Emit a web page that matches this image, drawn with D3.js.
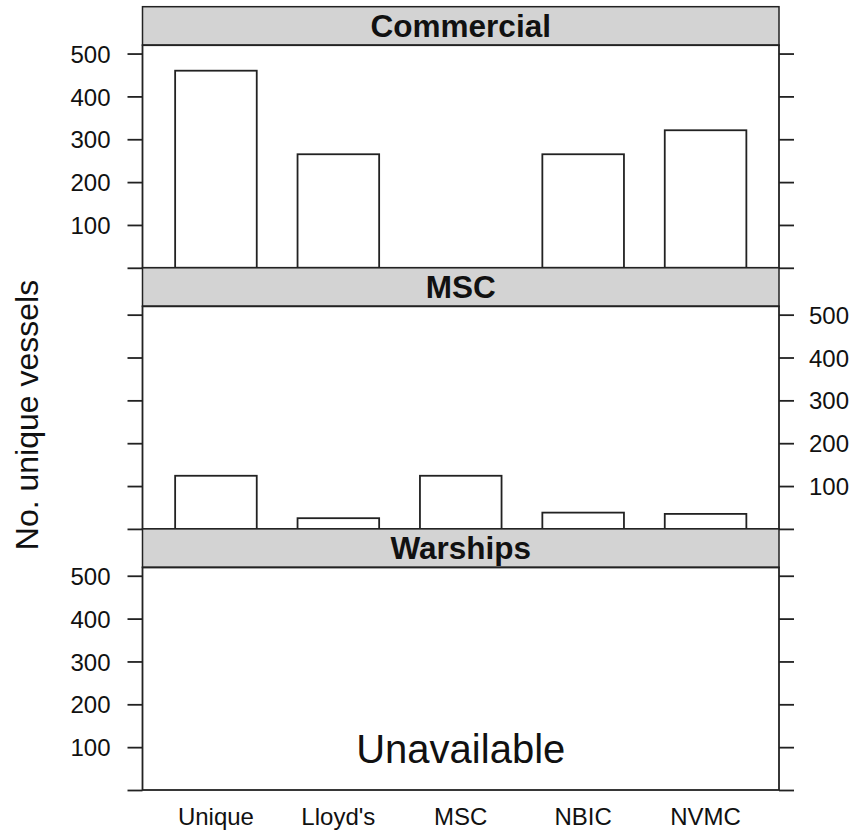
<!DOCTYPE html>
<html>
<head>
<meta charset="utf-8">
<script src="https://cdn.jsdelivr.net/npm/d3@7"></script>
<style>
  body { margin: 0; background: #fff; }
  svg { display: block; font-family: "Liberation Sans", Arial, sans-serif; }
</style>
</head>
<body>
<div class="chart"></div>
<script>
        // data
        var sources = ["Unique", "Lloyd's", "MSC", "NBIC", "NVMC"];
        var panels = ["Commercial", "MSC", "Warships"];
        var commercial = [460, 265, null, 265, 321];
        var msc = [124, 25, 124, 38, 35];
        var warships = [null, null, null, null, null];
        var yTicks = [0, 100, 200, 300, 400, 500];
        var tickSides = ["left", "right", "left"];

        var series = [commercial, msc, warships];

        //Width and height
        var w = 854;
        var h = 831;
        var left = 142.5, right = 779;
        var top0 = 6.7, panelH = 261.1, stripH = 38.5;

        var svg = d3.select("div.chart")
                    .append("svg")
                    .attr("width", w)
                    .attr("height", h);

        var xScale = d3.scalePoint()
                        .domain(sources)
                        .range([left, right])
                        .padding(0.6);
        var barW = xScale.step() * 2 / 3;

        panels.forEach(function(name, k) {
            var stripTop = top0 + k * panelH;
            var plotTop = stripTop + stripH;
            var plotBottom = stripTop + panelH;

            var yScale = d3.scaleLinear()
                            .domain([0, 519.5])
                            .range([plotBottom, plotTop]);

            var g = svg.append("g");

            // strip
            g.append("rect")
                .attr("x", left).attr("y", stripTop)
                .attr("width", right - left).attr("height", stripH)
                .attr("fill", "#d3d3d3")
                .attr("stroke", "#222")
                .attr("stroke-width", 1.5);
            g.append("text")
                .attr("x", (left + right) / 2)
                .attr("y", stripTop + stripH / 2 + 11)
                .attr("text-anchor", "middle")
                .attr("font-size", "31.5px")
                .attr("font-weight", "bold")
                .attr("fill", "#111")
                .text(name);

            // bars
            var data = series[k].map(function(v, i) { return {s: sources[i], v: v}; })
                                .filter(function(d) { return d.v != null; });
            g.selectAll("rect.bar")
                .data(data)
                .enter()
                .append("rect")
                .attr("class", "bar")
                .attr("x", function(d) { return xScale(d.s) - barW / 2; })
                .attr("y", function(d) { return yScale(d.v); })
                .attr("width", barW)
                .attr("height", function(d) { return yScale(0) - yScale(d.v); })
                .attr("fill", "#fff")
                .attr("stroke", "#222")
                .attr("stroke-width", 1.8);

            if (data.length === 0) {
                g.append("text")
                    .attr("x", (left + right) / 2)
                    .attr("y", 763)
                    .attr("text-anchor", "middle")
                    .attr("font-size", "40px")
                    .attr("fill", "#111")
                    .text("Unavailable");
            }

            // panel border
            g.append("rect")
                .attr("x", left).attr("y", plotTop)
                .attr("width", right - left).attr("height", plotBottom - plotTop)
                .attr("fill", "none")
                .attr("stroke", "#222")
                .attr("stroke-width", 1.8);

            // axes both sides
            var fmtOn = function(d) { return d === 0 ? "" : d; };
            var fmtOff = function() { return ""; };
            var axL = d3.axisLeft(yScale).tickValues(yTicks).tickSize(15).tickPadding(17)
                        .tickFormat(tickSides[k] === "left" ? fmtOn : fmtOff);
            var axR = d3.axisRight(yScale).tickValues(yTicks).tickSize(15).tickPadding(15)
                        .tickFormat(tickSides[k] === "right" ? fmtOn : fmtOff);

            [[axL, left], [axR, right]].forEach(function(a) {
                var ag = g.append("g")
                    .attr("transform", "translate(" + a[1] + ",0)")
                    .call(a[0]);
                ag.select(".domain").remove();
                ag.selectAll("line").attr("stroke", "#222").attr("stroke-width", 1.8);
                ag.selectAll("text")
                    .attr("font-size", "24px")
                    .attr("font-family", "Liberation Sans, Arial, sans-serif")
                    .attr("fill", "#111")
                    .attr("dy", "0.36em");
            });
        });

        // x labels
        svg.selectAll("text.xlab")
            .data(sources)
            .enter()
            .append("text")
            .attr("class", "xlab")
            .attr("x", function(d) { return xScale(d); })
            .attr("y", 825)
            .attr("text-anchor", "middle")
            .attr("font-size", "24px")
            .attr("fill", "#111")
            .text(function(d) { return d; });

        // y label
        svg.append("text")
            .attr("transform", "translate(38, 415) rotate(-90)")
            .attr("text-anchor", "middle")
            .attr("font-size", "32px")
            .attr("fill", "#111")
            .text("No. unique vessels");
</script>
</body>
</html>
